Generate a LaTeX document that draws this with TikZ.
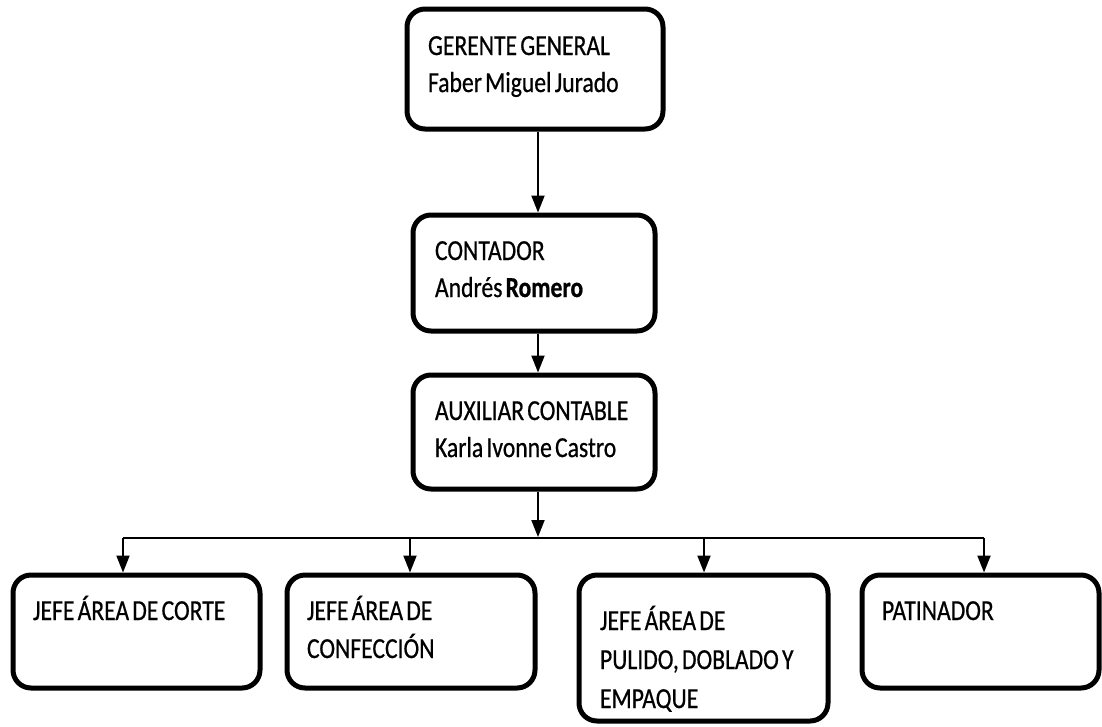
\documentclass[tikz,border=0pt]{standalone}
\usepackage{fontspec}
\setmainfont{Carlito}[FakeStretch=0.815, FakeBold=0.6, WordSpace=0.6]
\usetikzlibrary{arrows.meta}

\tikzset{
  orgbox/.style={draw=black, line width=5pt, rounded corners=18pt, fill=white,
                 inner sep=0pt, rectangle},
  boxtext/.style={anchor=base west, inner sep=0pt, outer sep=0pt,
                  font=\fontsize{29pt}{37pt}\selectfont},
  link/.style={draw=black, line width=2pt},
  linkarrow/.style={link, -{Triangle[width=13pt,length=17pt]}}
}

\begin{document}
\begin{tikzpicture}[x=1pt, y=-1pt]
  \fill[white] (0,0) rectangle (1102,726);
  \useasboundingbox (0,0) rectangle (1102,726);

  % management chain
  \node[orgbox, minimum width=256pt, minimum height=120pt] (gg)   at (535,69) {};
  \node[orgbox, minimum width=242pt, minimum height=116pt] (cont) at (534,273) {};
  \node[orgbox, minimum width=242pt, minimum height=114pt] (aux)  at (534,432) {};

  % area heads
  \node[orgbox, minimum width=247pt, minimum height=113pt] (corte) at (136.5,631.5) {};
  \node[orgbox, minimum width=248pt, minimum height=113pt] (conf)  at (411,631.5) {};
  \node[orgbox, minimum width=249pt, minimum height=146pt] (pul)   at (703.5,648) {};
  \node[orgbox, minimum width=237pt, minimum height=113pt] (pat)   at (980.5,631.5) {};

  % box labels
  \node[boxtext] (gg-1) at (428,55) {GERENTE GENERAL};
  \node[boxtext] (gg-2) at (428,92) {Faber Miguel Jurado};
  \node[boxtext] (cont-1) at (435,260) {CONTADOR};
  \node[boxtext] (cont-2) at (435,297) {Andrés \textbf{Romero}};
  \node[boxtext] (aux-1) at (435,420) {AUXILIAR CONTABLE};
  \node[boxtext] (aux-2) at (435,457) {Karla Ivonne Castro};
  \node[boxtext] (corte-1) at (33,620) {JEFE ÁREA DE CORTE};
  \node[boxtext] (conf-1) at (307,620) {JEFE ÁREA DE};
  \node[boxtext] (conf-2) at (307,658) {CONFECCIÓN};
  \node[boxtext] (pul-1) at (600,630) {JEFE ÁREA DE};
  \node[boxtext] (pul-2) at (600,669) {PULIDO, DOBLADO Y};
  \node[boxtext] (pul-3) at (600,708) {EMPAQUE};
  \node[boxtext] (pat-1) at (882,620) {PATINADOR};

  % connector routing points
  \coordinate (spine) at (538,0);
  \coordinate (bus) at (538,538);
  \coordinate (dA) at (123,538);
  \coordinate (dB) at (410,538);
  \coordinate (dC) at (704,538);
  \coordinate (dD) at (984,538);

  % vertical chain
  \draw[linkarrow] (gg.south -| spine) -- (cont.north -| spine);
  \draw[linkarrow] (cont.south -| spine) -- (aux.north -| spine);
  \draw[linkarrow, shorten >=1pt] (aux.south -| spine) -- (bus);

  % distribution bus and drops
  \draw[link] (dA) -- (dD);
  \draw[linkarrow] (dA) -- (dA |- corte.north);
  \draw[linkarrow] (dB) -- (dB |- conf.north);
  \draw[linkarrow] (dC) -- (dC |- pul.north);
  \draw[linkarrow] (dD) -- (dD |- pat.north);
\end{tikzpicture}
\end{document}
